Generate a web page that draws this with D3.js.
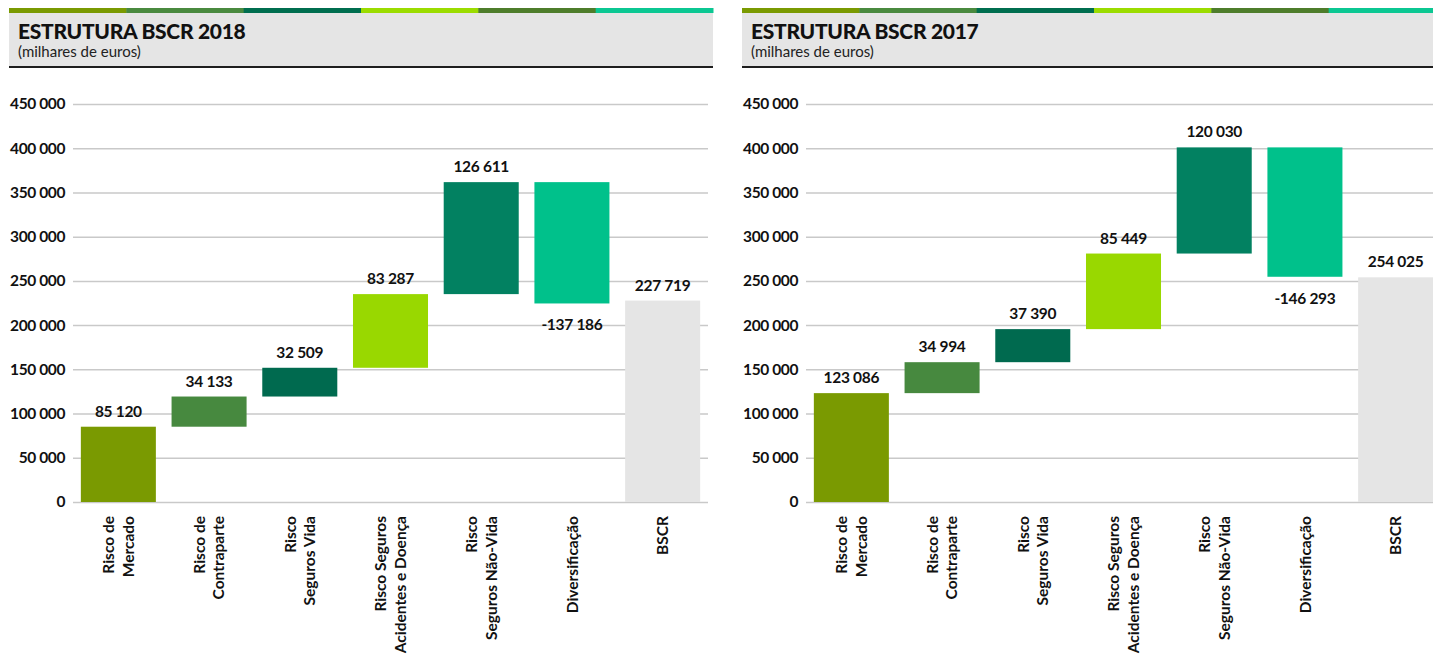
<!DOCTYPE html>
<html>
<head>
<meta charset="utf-8">
<script src="https://cdn.jsdelivr.net/npm/d3@7"></script>
<style>
  html, body { margin: 0; padding: 0; background: #ffffff; }
  svg { display: block; }
  text { font-family: Lato, "Open Sans", sans-serif; }
</style>
</head>
<body>
<svg id="chart" width="1433" height="668"></svg>
<script>
// ---- data ----
const categories = [
  ["Risco de", "Mercado"],
  ["Risco de", "Contraparte"],
  ["Risco", "Seguros Vida"],
  ["Risco Seguros", "Acidentes e Doença"],
  ["Risco", "Seguros Não-Vida"],
  ["Diversificação"],
  ["BSCR"]
];
const values2018 = [85120, 34133, 32509, 83287, 126611, -137186, 227719];
const values2017 = [123086, 34994, 37390, 85449, 120030, -146293, 254025];
const barColors = ["#7a9a01", "#47893f", "#006a4f", "#99d800", "#028161", "#00c18b", "#e5e5e5"];
const stripeColors = ["#7a9a01", "#4a8a3f", "#006e4f", "#9bdc00", "#4e7d2b", "#0bc792"];
const yTicks = [0, 50000, 100000, 150000, 200000, 250000, 300000, 350000, 400000, 450000];
const panels = [
  { title: "ESTRUTURA BSCR 2018", subtitle: "(milhares de euros)", values: values2018, offset: 0 },
  { title: "ESTRUTURA BSCR 2017", subtitle: "(milhares de euros)", values: values2017, offset: 733 }
];

const svg = d3.select("#chart");
const fmt = v => d3.format(",")(v).replace(/,/g, " ").replace("−", "-");

function drawPanel(p) {
  const g = svg.append("g").attr("transform", `translate(${p.offset},0)`);
  const hx = 9, hw = 704;

  // header
  const stripe = d3.scaleBand().domain(d3.range(stripeColors.length)).range([hx, hx + hw]);
  g.selectAll("rect.stripe").data(stripeColors).join("rect")
    .attr("class", "stripe")
    .attr("x", (d, i) => stripe(i)).attr("y", 8)
    .attr("width", stripe.bandwidth() + 0.5).attr("height", 5)
    .attr("fill", d => d);
  g.append("rect").attr("x", hx).attr("y", 13).attr("width", hw).attr("height", 53).attr("fill", "#e5e5e5");
  g.append("rect").attr("x", hx).attr("y", 66).attr("width", hw).attr("height", 2).attr("fill", "#1e1e1e");
  g.append("text").attr("x", 18).attr("y", 39)
    .attr("font-size", 21).attr("font-weight", 900).attr("fill", "#111").attr("letter-spacing", -0.3)
    .text(p.title);
  g.append("text").attr("x", 18).attr("y", 57)
    .attr("font-size", 15).attr("fill", "#222")
    .text(p.subtitle);

  // scales
  const left = 73, right = 708;
  const y = d3.scaleLinear().domain([0, 450000]).range([502, 104]);
  const x = d3.scaleBand().domain(d3.range(categories.length)).range([left, right])
    .paddingInner(0.173).paddingOuter(0.0865);

  // grid + y axis
  const ax = g.append("g").attr("transform", `translate(${left},0)`)
    .call(d3.axisLeft(y).tickValues(yTicks).tickSize(-(right - left)).tickPadding(8).tickFormat(fmt));
  ax.select(".domain").remove();
  ax.selectAll(".tick line").attr("stroke", "#c9c9c9").attr("stroke-width", 1.5);
  ax.selectAll(".tick text").attr("font-size", 15.5).attr("font-weight", 700)
    .attr("fill", "#111").attr("letter-spacing", -0.4).attr("font-family", "Lato, sans-serif");

  // waterfall
  let running = 0;
  const bars = p.values.map((v, i) => {
    let s, e;
    if (i === p.values.length - 1) { s = 0; e = v; }
    else { s = running; e = running + v; running = e; }
    return { i, v, lo: Math.min(s, e), hi: Math.max(s, e) };
  });

  g.selectAll("rect.bar").data(bars).join("rect")
    .attr("class", "bar")
    .attr("x", d => x(d.i)).attr("width", x.bandwidth())
    .attr("y", d => y(d.hi)).attr("height", d => y(d.lo) - y(d.hi))
    .attr("fill", d => barColors[d.i]);

  g.selectAll("text.val").data(bars).join("text")
    .attr("class", "val")
    .attr("x", d => x(d.i) + x.bandwidth() / 2)
    .attr("y", d => d.v >= 0 ? y(d.hi) - 10 : y(d.lo) + 27)
    .attr("text-anchor", "middle")
    .attr("font-size", 15.5).attr("font-weight", 700).attr("fill", "#111").attr("letter-spacing", -0.3)
    .text(d => fmt(d.v));

  // category labels (rotated)
  const cat = g.selectAll("g.cat").data(categories).join("g")
    .attr("class", "cat")
    .attr("transform", (d, i) => `translate(${x(i) + x.bandwidth() / 2},516) rotate(-90)`);
  cat.each(function (lines) {
    const n = lines.length;
    d3.select(this).selectAll("text").data(lines).join("text")
      .attr("x", 0)
      .attr("y", (l, j) => (j - (n - 1) / 2) * 19.5)
      .attr("dy", "0.36em")
      .attr("text-anchor", "end")
      .attr("font-size", 15.5).attr("font-weight", 700).attr("fill", "#111")
      .text(l => l);
  });
}

panels.forEach(drawPanel);
</script>
</body>
</html>
